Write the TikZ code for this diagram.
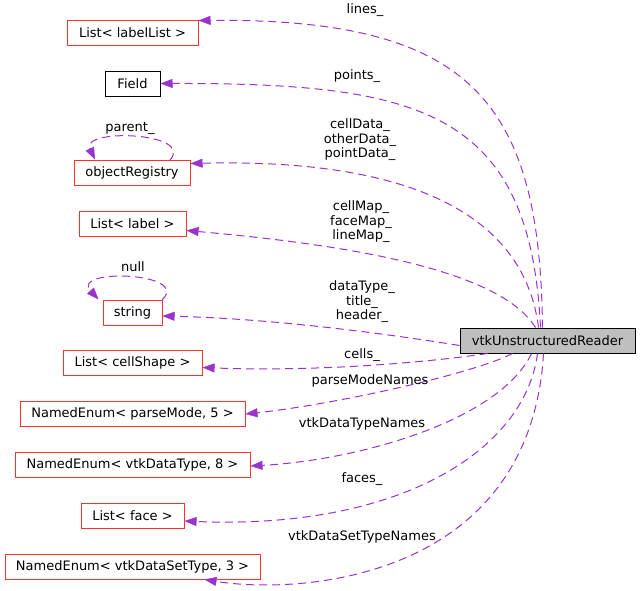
\documentclass[tikz,border=0pt]{standalone}
\usepackage{fontspec}
\setmainfont{DejaVu Sans}
\usetikzlibrary{arrows.meta}
\definecolor{edgec}{HTML}{9A32CD}
\definecolor{boxred}{HTML}{FF3030}
\tikzset{
  cls/.style={draw=boxred, line width=1pt, minimum height=25pt, inner xsep=4pt, inner ysep=0pt, font=\fontsize{13}{15}\selectfont, anchor=center},
  clsblack/.style={cls, draw=black},
  main/.style={cls, draw=black, fill=black!25},
  edge/.style={draw=edgec, line width=1pt, dash pattern=on 8pt off 5pt, -{Triangle[length=12pt,width=9pt,fill=edgec,line width=0.5pt]}},
  lbl/.style={font=\fontsize{13}{14.5}\selectfont, align=center, inner sep=0pt}
}
\begin{document}
\begin{tikzpicture}[x=1pt,y=-1pt]
\useasboundingbox (0,0) rectangle (640,590);
% nodes
\node[cls, minimum width=131pt] (ll) at (132.5,32.5) {List< labelList >};
\node[clsblack, minimum width=55pt] (fld) at (132.5,83.5) {Field};
\node[cls, minimum width=116pt] (obr) at (132,172.5) {objectRegistry};
\node[cls, minimum width=107pt] (lab) at (132.5,223.5) {List< label >};
\node[cls, minimum width=59pt] (str) at (132.5,312.5) {string};
\node[cls, minimum width=139pt] (cs) at (132.5,362.5) {List< cellShape >};
\node[cls, minimum width=225pt] (pm) at (132.5,414) {NamedEnum< parseMode, 5 >};
\node[cls, minimum width=235pt] (dt) at (132.5,465) {NamedEnum< vtkDataType, 8 >};
\node[cls, minimum width=103pt] (fc) at (132.5,515.5) {List< face >};
\node[cls, minimum width=255pt] (dst) at (132.5,566.5) {NamedEnum< vtkDataSetType, 3 >};
\node[main, minimum width=175pt] (rd) at (547.5,340.5) {vtkUnstructuredReader};
% edges
\draw[edge] ([xshift=-5pt]rd.north) .. controls (540,100) and (470,18) .. ([yshift=-1pt]ll.north east);
\draw[edge] ([xshift=-7pt]rd.north) .. controls (530,110) and (420,83) .. (fld.east);
\draw[edge] ([xshift=-9pt]rd.north) .. controls (525,220) and (420,158) .. ([yshift=9pt]obr.east);
\draw[edge] ([xshift=-12pt]rd.north) .. controls (500,270) and (350,245) .. ([yshift=-7pt]lab.east);
\draw[edge] ([yshift=-5pt]rd.west) .. controls (350,328) and (250,318) .. ([yshift=-3.5pt]str.east);
\draw[edge] ([xshift=-60pt]rd.south) .. controls (430,362) and (320,372) .. ([yshift=-5pt]cs.east);
\draw[edge] ([xshift=-35pt]rd.south) .. controls (470,375) and (330,405) .. (pm.east);
\draw[edge] ([xshift=-16pt]rd.south) .. controls (500,420) and (360,460) .. ([yshift=-1pt]dt.east);
\draw[edge] ([xshift=-10pt]rd.south) .. controls (525,450) and (400,530) .. ([yshift=-5.5pt]fc.east);
\draw[edge] ([xshift=-4pt]rd.south) .. controls (530,580) and (300,595) .. ([xshift=72pt]dst.south);
% self loops
\coordinate (obrA) at (170,160);
\draw[edge] (obrA) .. controls (195,132) and (80,128) .. ([xshift=-37pt]obr.north);
\coordinate (strA) at (162,300);
\draw[edge] (strA) .. controls (192,272) and (70,268) .. ([xshift=-34pt]str.north);
% labels
\node[lbl] (l1) at (365,10) {lines\_};
\node[lbl] (l2) at (357,76) {points\_};
\node[lbl] (l3) at (360,140) {cellData\_\\otherData\_\\pointData\_};
\node[lbl] (l4) at (361,222) {cellMap\_\\faceMap\_\\lineMap\_};
\node[lbl] (l5) at (362,302) {dataType\_\\title\_\\header\_};
\node[lbl] (l6) at (362,355) {cells\_};
\node[lbl] (l7) at (370,381) {parseModeNames};
\node[lbl] (l8) at (362,424) {vtkDataTypeNames};
\node[lbl] (l9) at (362,479) {faces\_};
\node[lbl] (l10) at (362,537) {vtkDataSetTypeNames};
\node[lbl] (l11) at (130,128) {parent\_};
\node[lbl] (l12) at (133,267) {null};
\end{tikzpicture}
\end{document}
